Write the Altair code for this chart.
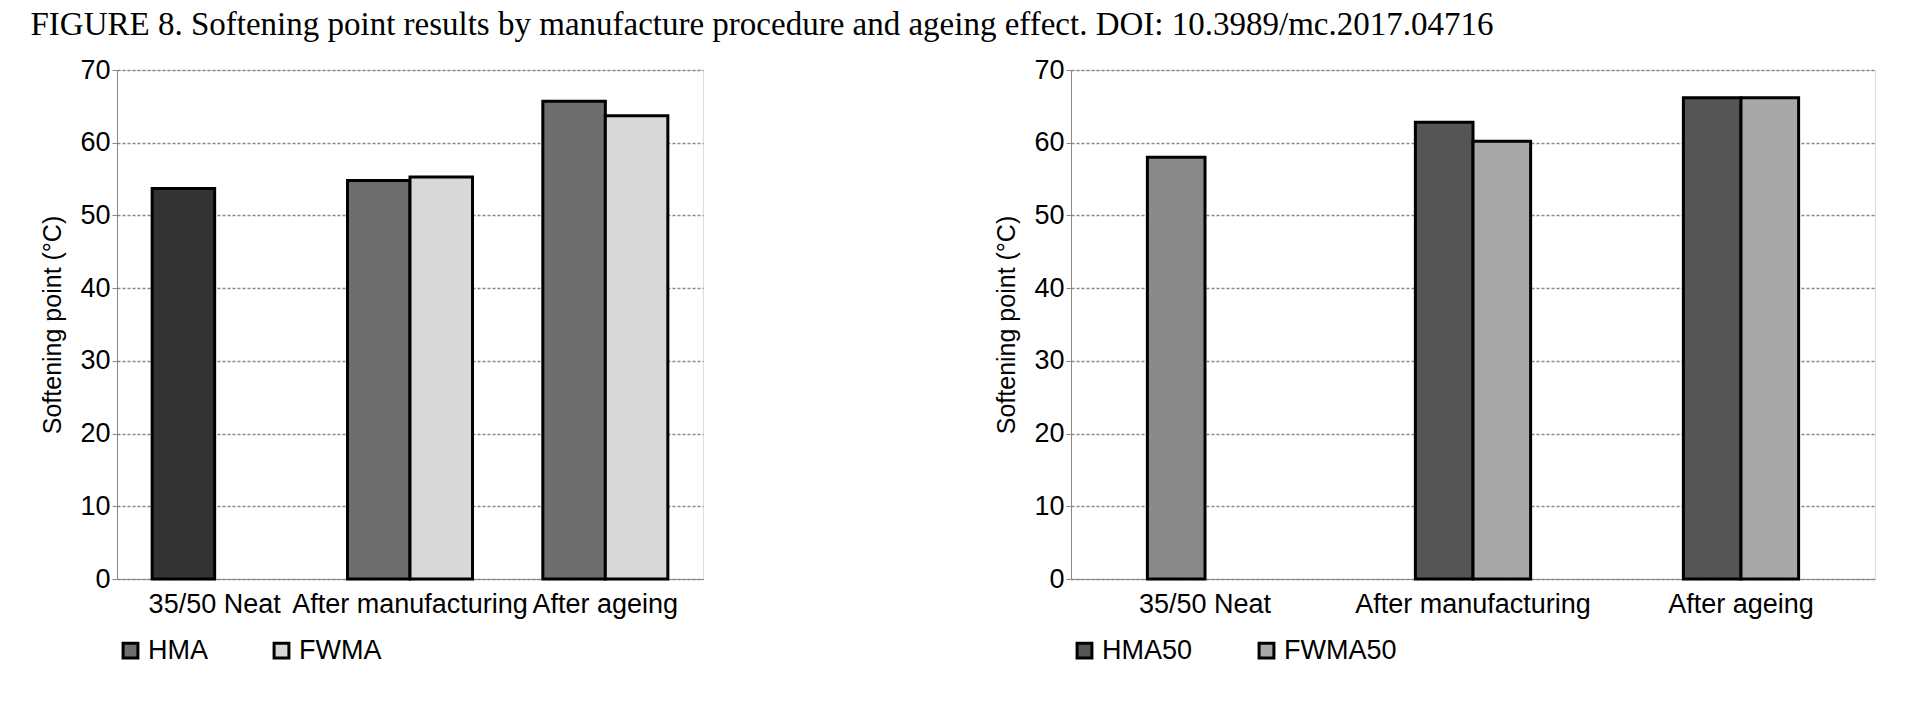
import altair as alt
import pandas as pd

cats = ["35/50 Neat", "After manufacturing", "After ageing"]
left_series = ["HMA", "HMA", "FWMA", "HMA", "FWMA"]
left_cats = ["35/50 Neat", "After manufacturing", "After manufacturing", "After ageing", "After ageing"]
left_vals = [53.7, 54.8, 55.3, 65.7, 63.7]
right_series = ["HMA50", "HMA50", "FWMA50", "HMA50", "FWMA50"]
right_cats = left_cats
right_vals = [58.0, 62.8, 60.2, 66.2, 66.2]

FS = 27

def panel(series, cs, vals, width, pad, colors, neat_color, ytitle):
    df = pd.DataFrame({"cat": cs, "series": series, "val": vals})
    df["neat"] = [c == "35/50 Neat" for c in cs]
    dom = [series[1], series[2]]
    base = alt.Chart(df).encode(
        x=alt.X("cat:N", sort=cats, title=None,
                scale=alt.Scale(paddingInner=pad, paddingOuter=pad / 2),
                axis=alt.Axis(labelAngle=0, labelFontSize=FS, labelFont="Liberation Sans", labelLimit=0,
                              labelColor="black", ticks=False, domainColor="#888", labelPadding=12)),
        xOffset=alt.XOffset("series:N", sort=dom, scale=alt.Scale(domain=dom)),
        y=alt.Y("val:Q", title=ytitle, scale=alt.Scale(domain=[0, 70]),
                axis=alt.Axis(values=list(range(0, 71, 10)), labelFontSize=FS, titleFontSize=FS - 2,
                              titleFontWeight="normal", labelFont="Liberation Sans", titleFont="Liberation Sans",
                              labelColor="black", titleColor="black", gridDash=[3, 2], gridColor="#888",
                              gridWidth=1.5, domainColor="#888", tickColor="#888", titlePadding=14)),
    )
    bars = base.mark_bar(stroke="black", strokeWidth=3).encode(
        color=alt.condition("datum.neat", alt.value(neat_color),
                            alt.Color("series:N", scale=alt.Scale(domain=dom, range=colors),
                                      legend=alt.Legend(orient="bottom", title=None, labelFontSize=FS,
                                                        labelFont="Liberation Sans", symbolType="square",
                                                        symbolSize=220, symbolStrokeColor="black",
                                                        symbolStrokeWidth=3, columnPadding=60,
                                                        offset=20, labelColor="black")))
    )
    return bars.properties(width=width, height=509)

left = panel(left_series, left_cats, left_vals, 586, 0.36, ["#6e6e6e", "#d8d8d8"], "#333333", "Softening point (°C)")
right = panel(right_series, right_cats, right_vals, 804, 0.57, ["#555555", "#a8a8a8"], "#8a8a8a", "Softening point (°C)")

chart = alt.hconcat(left, right, spacing=290).resolve_scale(
    color="independent", x="independent", xOffset="independent"
).properties(
    title=alt.TitleParams("FIGURE 8.    Softening point results by manufacture procedure and ageing effect. DOI: 10.3989/mc.2017.04716",
                          font="Liberation Serif", fontSize=33, fontWeight="normal", anchor="start", color="black",
                          offset=14, dx=-10)
).configure_view(stroke="#888", strokeWidth=1.5).configure(padding={"left": 22, "top": 0, "right": 5, "bottom": 0})

chart.save("out.html", embed_options={"renderer": "svg", "actions": False})
